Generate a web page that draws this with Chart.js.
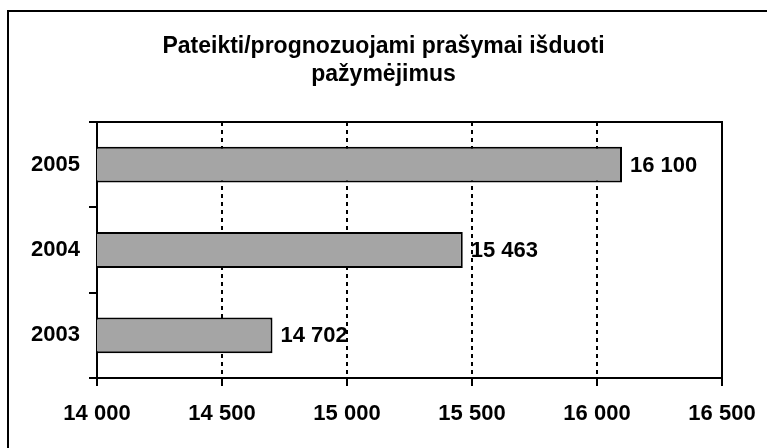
<!DOCTYPE html>
<html>
<head>
<meta charset="utf-8">
<title>Pateikti/prognozuojami prašymai išduoti pažymėjimus</title>
<script src="https://cdn.jsdelivr.net/npm/chart.js@4.4.1/dist/chart.umd.min.js"></script>
<style>
    html, body { margin: 0; padding: 0; background: #fff; }
    canvas { display: block; }
</style>
</head>
<body>
<canvas id="chart" width="767" height="448"></canvas>
<script>
// Data
const years = ['2003', '2004', '2005'];
const requests = [14702, 15463, 16100];
const titleLines = ['Pateikti/prognozuojami prašymai išduoti', 'pažymėjimus'];
const axisMin = 14000;
const axisMax = 16500;
const axisStep = 500;

const FONT = "'Liberation Sans', Arial, sans-serif";

// number with a space as thousands separator: 14 702
function fmt(v) {
    return String(v).replace(/\B(?=(\d{3})+(?!\d))/g, ' ');
}

// outer frame + top/right sides of the plot area
const framePlugin = {
    id: 'frame',
    beforeDraw(chart) {
        const ctx = chart.ctx;
        ctx.save();
        ctx.fillStyle = '#fff';
        ctx.fillRect(0, 0, chart.width, chart.height);
        ctx.strokeStyle = '#000';
        ctx.lineWidth = 2;
        ctx.strokeRect(8, 11, chart.width + 20, chart.height + 20);
        ctx.restore();
    },
    afterDraw(chart) {
        const a = chart.chartArea;
        const ctx = chart.ctx;
        ctx.save();
        ctx.strokeStyle = '#000';
        ctx.lineWidth = 2;
        ctx.beginPath();
        ctx.moveTo(a.left, a.top);
        ctx.lineTo(a.right, a.top);
        ctx.lineTo(a.right, a.bottom);
        ctx.stroke();
        ctx.restore();
    }
};

// value labels to the right of each bar
const valueLabels = {
    id: 'valueLabels',
    afterDatasetsDraw(chart) {
        const ctx = chart.ctx;
        const meta = chart.getDatasetMeta(0);
        ctx.save();
        ctx.font = 'bold 22px ' + FONT;
        ctx.fillStyle = '#000';
        ctx.textAlign = 'left';
        ctx.textBaseline = 'middle';
        meta.data.forEach((bar, i) => {
            ctx.fillText(fmt(chart.data.datasets[0].data[i]), bar.x + 8, bar.y + 1);
        });
        ctx.restore();
    }
};

Chart.defaults.font.family = FONT;
Chart.defaults.color = '#000';

const ctx = document.getElementById('chart').getContext('2d');

new Chart(ctx, {
    type: 'bar',
    data: {
        labels: years,
        datasets: [{
            data: requests,
            backgroundColor: '#a5a5a5',
            borderColor: '#000',
            borderWidth: 2,
            borderSkipped: false,
            barPercentage: 0.42,
            categoryPercentage: 1
        }]
    },
    options: {
        indexAxis: 'y',
        responsive: false,
        animation: false,
        devicePixelRatio: 1,
        layout: {
            padding: { top: 0, left: 10, right: 10, bottom: 0 }
        },
        plugins: {
            legend: { display: false },
            tooltip: { enabled: false },
            title: {
                display: true,
                text: titleLines,
                color: '#000',
                font: { size: 23, weight: 'bold', lineHeight: 28 / 23 },
                padding: { top: 33, bottom: 33 }
            }
        },
        scales: {
            x: {
                min: axisMin,
                max: axisMax,
                afterFit: function(scale) {
                    scale.height = 70;
                    scale.paddingRight = 45; // keeps plot right edge at x=722
                },
                ticks: {
                    stepSize: axisStep,
                    autoSkip: false,
                    maxRotation: 0,
                    padding: 15,
                    font: { size: 22, weight: 'bold' },
                    callback: function(value) { return fmt(value); }
                },
                grid: {
                    color: '#000',
                    lineWidth: 2,
                    tickLength: 8,
                    tickColor: '#000',
                    tickWidth: 2
                },
                border: { display: true, color: '#000', width: 2, dash: [4, 4] }
            },
            y: {
                reverse: true,
                afterFit: function(scale) { scale.width = 87; },
                ticks: {
                    padding: 9,
                    font: { size: 22, weight: 'bold' }
                },
                grid: {
                    drawOnChartArea: false,
                    color: '#000',
                    lineWidth: 2,
                    tickLength: 8
                },
                border: { display: true, color: '#000', width: 2 }
            }
        }
    },
    plugins: [framePlugin, valueLabels]
});
</script>
</body>
</html>
